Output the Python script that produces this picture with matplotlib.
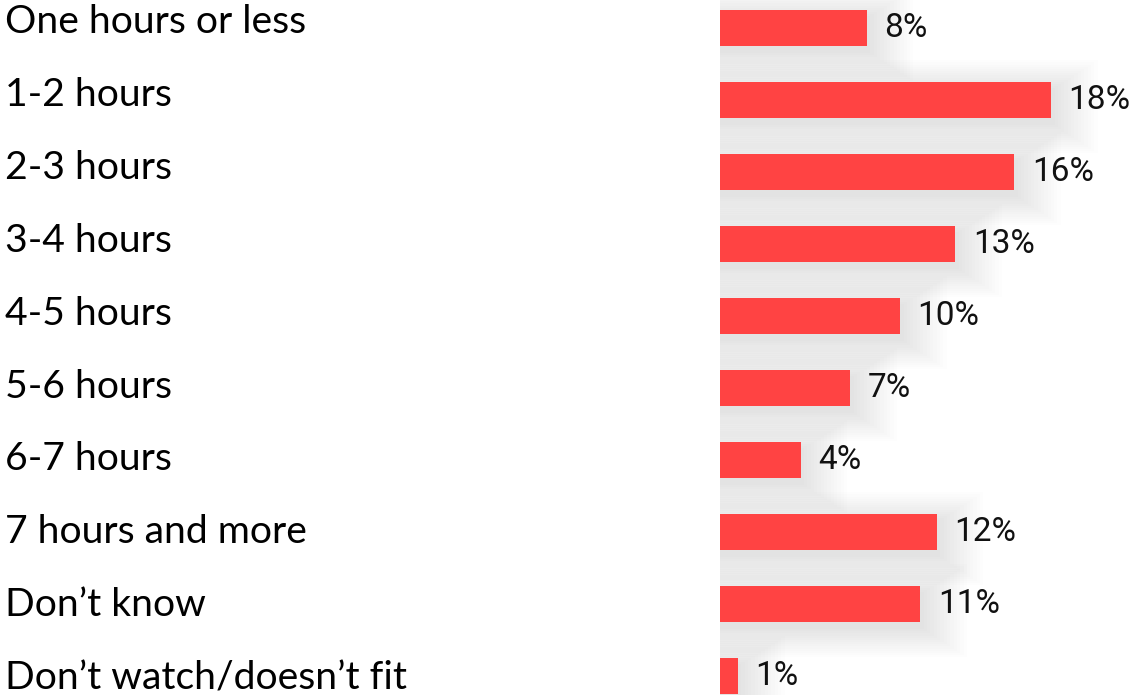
import matplotlib
matplotlib.use('Agg')
import matplotlib.pyplot as plt

# answers and share of respondents (in %)
categories = ['One hours or less', '1-2 hours', '2-3 hours', '3-4 hours', '4-5 hours',
              '5-6 hours', '6-7 hours', '7 hours and more', 'Don\u2019t know',
              'Don\u2019t watch/doesn\u2019t fit']
values = [8.0, 18.0, 16.0, 12.8, 9.8, 7.1, 4.4, 11.8, 10.9, 1.0]

bar_color = '#ff4343'

fig = plt.figure(figsize=(11.37, 6.95), dpi=100)

# bars
ax = fig.add_axes([0.633, 0.0, 0.367, 1.0])
pos = list(range(len(categories)))

# soft grey glow behind the bars (layers of faint, growing bars)
for k in range(14):
    grow = 0.06 * (k + 1)
    ax.barh([p + 0.1 for p in pos], [v + grow * 3.0 for v in values],
            height=0.45 + grow, color='#808080', alpha=0.016, linewidth=0)

ax.barh(pos, values, height=0.5, color=bar_color)
ax.set_xlim(0, 22.66)
ax.set_ylim(9.27, -0.382)
ax.axis('off')

for i, v in enumerate(values):
    ax.text(v + 0.95, i, '{:.0f}%'.format(v), va='center', ha='left',
            fontsize=24, family='Roboto', color='#111111')

# category labels, a bit wider spaced than the bars
ax_lab = fig.add_axes([0.0, 0.0, 0.6, 1.0])
ax_lab.set_xlim(0, 1)
ax_lab.set_ylim(9.28, -0.254)
ax_lab.axis('off')
for i, c in enumerate(categories):
    ax_lab.text(0.007, i, c, va='center_baseline', ha='left',
                fontsize=28.2, family='Lato', color='black')

fig.savefig('out.png', dpi=100, facecolor='white')
